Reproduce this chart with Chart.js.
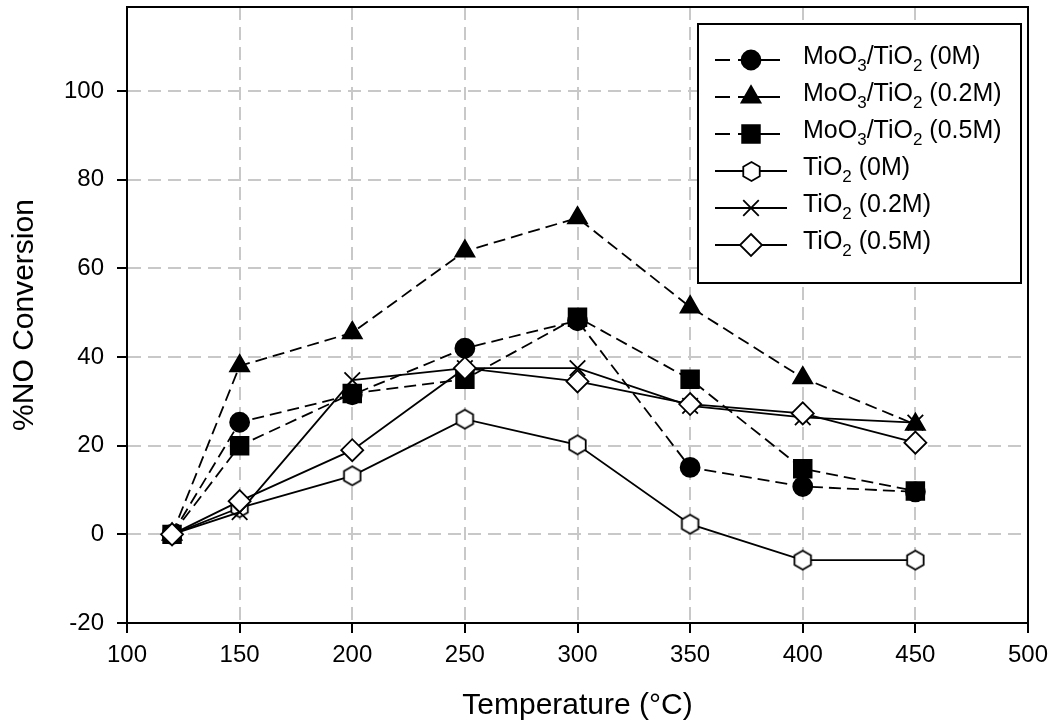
<!DOCTYPE html>
<html>
<head>
<meta charset="utf-8">
<script src="https://cdn.jsdelivr.net/npm/chart.js@4.4.1/dist/chart.umd.min.js"></script>
<style>
  html, body { margin: 0; padding: 0; background: #ffffff; }
  #wrap { width: 1056px; height: 724px; }
</style>
</head>
<body>
<div id="wrap"><canvas id="c" width="1056" height="724"></canvas></div>
<script>
// Reaction temperatures (°C)
const temperatures = [120, 150, 200, 250, 300, 350, 400, 450];

// %NO conversion for each catalyst
const moo3Tio2_0M  = [0, 25.3, 31.5, 42.0, 48.2, 15.1, 10.8, 9.6];
const moo3Tio2_02M = [0, 38.0, 45.5, 63.9, 71.4, 51.3, 35.3, 24.8];
const moo3Tio2_05M = [0, 20.0, 31.8, 35.0, 49.0, 35.0, 14.8, 9.8];
const tio2_0M      = [0, 6.0, 13.2, 26.0, 20.2, 2.3, -5.8, -5.8];
const tio2_02M     = [0, 5.0, 34.8, 37.5, 37.5, 29.0, 26.4, 25.2];
const tio2_05M     = [0, 7.5, 19.0, 37.5, 34.5, 29.4, 27.3, 20.7];

// Series names; "_x" marks a subscript character
const seriesLabels = [
  'MoO_3/TiO_2 (0M)',
  'MoO_3/TiO_2 (0.2M)',
  'MoO_3/TiO_2 (0.5M)',
  'TiO_2 (0M)',
  'TiO_2 (0.2M)',
  'TiO_2 (0.5M)'
];

// Axis tick values and titles
const xTickValues = [100, 150, 200, 250, 300, 350, 400, 450, 500];
const yTickValues = [-20, 0, 20, 40, 60, 80, 100];
const xTitle = 'Temperature (°C)';
const yTitle = '%NO Conversion';

const FONT = "'Liberation Sans', Arial, sans-serif";

// Open hexagon marker (pointy top, vertical sides)
function makeHexagon(r, lw) {
  const cv = document.createElement('canvas');
  const w = Math.ceil(2 * r * 0.866 + lw * 2 + 2);
  const h = Math.ceil(2 * r + lw * 2 + 2);
  cv.width = w; cv.height = h;
  const g = cv.getContext('2d');
  const cx = w / 2, cy = h / 2;
  g.beginPath();
  for (let i = 0; i < 6; i++) {
    const a = -Math.PI / 2 + i * Math.PI / 3;
    const px = cx + r * Math.cos(a), py = cy + r * Math.sin(a);
    if (i === 0) g.moveTo(px, py); else g.lineTo(px, py);
  }
  g.closePath();
  g.fillStyle = '#ffffff';
  g.fill();
  g.lineWidth = lw;
  g.strokeStyle = '#000000';
  g.stroke();
  return cv;
}
const hexagon = makeHexagon(9.5, 1.8);

const seriesValues = [moo3Tio2_0M, moo3Tio2_02M, moo3Tio2_05M, tio2_0M, tio2_02M, tio2_05M];
const styles = [
  { point: 'circle',   radius: 9.5,  fill: '#000', dash: [12, 6] },
  { point: 'triangle', radius: 11,   fill: '#000', dash: [12, 6] },
  { point: 'rect',     radius: 12.5, fill: '#000', dash: [12, 6] },
  { point: hexagon,    radius: 9.5,  fill: '#fff', dash: [] },
  { point: 'crossRot', radius: 11,   fill: '#fff', dash: [] },
  { point: 'rectRot',  radius: 11,   fill: '#fff', dash: [] }
];

const datasets = seriesValues.map((vals, i) => ({
  label: seriesLabels[i].replace(/_/g, ''),
  rawLabel: seriesLabels[i],
  data: temperatures.map((t, k) => ({ x: t, y: vals[k] })),
  borderColor: '#000',
  borderWidth: 1.8,
  borderDash: styles[i].dash,
  pointStyle: styles[i].point,
  pointRadius: styles[i].radius,
  pointHoverRadius: styles[i].radius,
  pointBackgroundColor: styles[i].fill,
  pointBorderColor: '#000',
  pointBorderWidth: 1.8,
  fill: false,
  tension: 0,
  order: seriesValues.length - i
}));

// Draws a legend marker matching the dataset's point style
function drawMarker(ctx, st, x, y) {
  if (st.point instanceof HTMLCanvasElement) {
    ctx.drawImage(st.point, Math.round(x - st.point.width / 2), Math.round(y - st.point.height / 2));
    return;
  }
  const r = st.radius;
  ctx.save();
  ctx.setLineDash([]);
  ctx.lineWidth = 1.8;
  ctx.strokeStyle = '#000';
  ctx.fillStyle = st.fill;
  ctx.beginPath();
  if (st.point === 'circle') {
    ctx.arc(x, y, r, 0, Math.PI * 2);
    ctx.fill(); ctx.stroke();
  } else if (st.point === 'triangle') {
    for (let i = 0; i < 3; i++) {
      const a = -Math.PI / 2 + i * 2 * Math.PI / 3;
      const px = x + r * Math.cos(a), py = y + r * Math.sin(a);
      if (i === 0) ctx.moveTo(px, py); else ctx.lineTo(px, py);
    }
    ctx.closePath(); ctx.fill(); ctx.stroke();
  } else if (st.point === 'rect') {
    const s = r * Math.SQRT1_2;
    ctx.rect(x - s, y - s, 2 * s, 2 * s);
    ctx.fill(); ctx.stroke();
  } else if (st.point === 'rectRot') {
    ctx.moveTo(x, y - r); ctx.lineTo(x + r, y); ctx.lineTo(x, y + r); ctx.lineTo(x - r, y);
    ctx.closePath(); ctx.fill(); ctx.stroke();
  } else if (st.point === 'crossRot') {
    const s = r * Math.SQRT1_2;
    ctx.moveTo(x - s, y - s); ctx.lineTo(x + s, y + s);
    ctx.moveTo(x + s, y - s); ctx.lineTo(x - s, y + s);
    ctx.stroke();
  }
  ctx.restore();
}

// Text with "_x" subscripts
function drawRichText(ctx, text, x, baseline, size) {
  const subSize = Math.round(size * 0.68);
  let cx = x;
  const parts = text.split(/(_.)/);
  parts.forEach(p => {
    if (!p) return;
    if (p[0] === '_') {
      ctx.font = subSize + 'px ' + FONT;
      ctx.fillText(p[1], cx, baseline + size * 0.28);
      cx += ctx.measureText(p[1]).width;
    } else {
      ctx.font = size + 'px ' + FONT;
      ctx.fillText(p, cx, baseline);
      cx += ctx.measureText(p).width;
    }
  });
}

const framePlugin = {
  id: 'frameAndLegend',
  afterDatasetsDraw(chart) {
    const ctx = chart.ctx;
    const a = chart.chartArea;
    ctx.save();
    // top and right edges of the plot frame
    ctx.strokeStyle = '#000';
    ctx.lineWidth = 2;
    ctx.setLineDash([]);
    ctx.beginPath();
    ctx.moveTo(a.left - 1, a.top);
    ctx.lineTo(a.right, a.top);
    ctx.lineTo(a.right, a.bottom + 1);
    ctx.stroke();

    // legend box
    const box = { x: 698, y: 24, w: 323, h: 259 };
    ctx.fillStyle = '#fff';
    ctx.fillRect(box.x, box.y, box.w, box.h);
    ctx.strokeRect(box.x, box.y, box.w, box.h);

    const rowY0 = 60, rowGap = 37;
    chart.data.datasets.forEach((ds, i) => {
      const y = rowY0 + i * rowGap;
      const st = styles[i];
      ctx.strokeStyle = '#000';
      ctx.lineWidth = 1.8;
      ctx.setLineDash([]);
      ctx.beginPath();
      if (st.dash.length) {
        ctx.moveTo(715, y); ctx.lineTo(730, y);
        ctx.moveTo(738, y); ctx.lineTo(780, y);
      } else {
        ctx.moveTo(715, y); ctx.lineTo(787, y);
      }
      ctx.stroke();
      drawMarker(ctx, st, 751, y);
      ctx.fillStyle = '#000';
      ctx.textBaseline = 'alphabetic';
      ctx.textAlign = 'left';
      drawRichText(ctx, ds.rawLabel, 803, y + 4, 25);
    });
    ctx.restore();
  }
};

const tickFont = { family: FONT, size: 24 };
const titleFont = { family: FONT, size: 30 };

new Chart(document.getElementById('c'), {
  type: 'line',
  data: { datasets },
  options: {
    responsive: false,
    animation: false,
    devicePixelRatio: 1,
    layout: { autoPadding: false, padding: { top: 7, right: 28, left: 0, bottom: 0 } },
    plugins: {
      legend: { display: false },
      tooltip: { enabled: false }
    },
    scales: {
      x: {
        type: 'linear',
        min: xTickValues[0],
        max: xTickValues[xTickValues.length - 1],
        afterBuildTicks: s => { s.ticks = xTickValues.map(v => ({ value: v })); },
        afterFit: s => { s.height = 101; s.paddingLeft = 0; s.paddingRight = 0; },
        ticks: { font: tickFont, color: '#000', padding: 8, maxRotation: 0, autoSkip: false },
        grid: {
          color: '#c8c8c8', lineWidth: 2,
          tickColor: '#000', tickWidth: 2, tickLength: 10, tickBorderDash: []
        },
        border: { display: true, color: '#000', width: 2, dash: [13, 7] },
        title: { display: true, text: xTitle, font: titleFont, color: '#000', padding: { top: 0, bottom: 0 } }
      },
      y: {
        type: 'linear',
        min: -20,
        max: 119,
        afterBuildTicks: s => { s.ticks = yTickValues.map(v => ({ value: v })); },
        afterFit: s => { s.width = 127; s.paddingTop = 0; s.paddingBottom = 0; },
        ticks: { font: tickFont, color: '#000', padding: 13, autoSkip: false },
        grid: {
          color: '#c8c8c8', lineWidth: 2,
          tickColor: '#000', tickWidth: 2, tickLength: 10, tickBorderDash: []
        },
        border: { display: true, color: '#000', width: 2, dash: [13, 7] },
        title: { display: true, text: yTitle, font: titleFont, color: '#000', padding: { top: 7, bottom: 0 } }
      }
    }
  },
  plugins: [framePlugin]
});
</script>
</body>
</html>
